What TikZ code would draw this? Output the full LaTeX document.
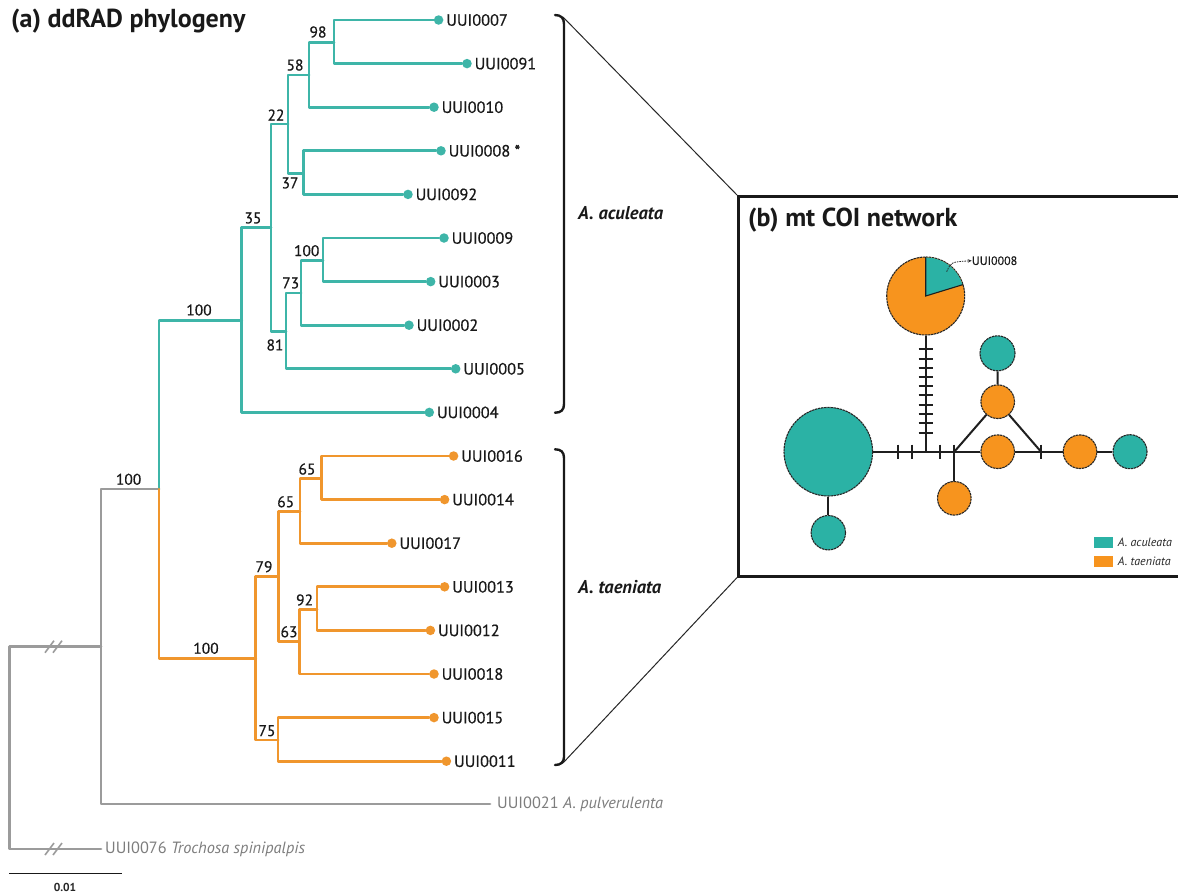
\documentclass[tikz,border=0pt]{standalone}
\usepackage{fontspec}
\setmainfont{PT Sans}
\newfontfamily\medfont[FakeBold=0.6]{PT Sans}
\usetikzlibrary{arrows.meta}
\definecolor{treeteal}{RGB}{62,181,168}
\definecolor{treeorange}{RGB}{240,150,45}
\definecolor{treegrey}{RGB}{155,155,155}
\definecolor{netteal}{RGB}{43,178,165}
\definecolor{netorange}{RGB}{247,148,30}
\definecolor{labgrey}{RGB}{125,125,125}
\begin{document}
\begin{tikzpicture}[x=1pt,y=-1pt,
  br/.style={line width=2.7pt, line cap=round, line join=round},
  tealbr/.style={br, draw=treeteal},
  orbr/.style={br, draw=treeorange},
  greybr/.style={br, draw=treegrey},
  tipdot/.style={circle, inner sep=0pt, minimum size=9.5pt},
  tipT/.style={tipdot, fill=treeteal},
  tipO/.style={tipdot, fill=treeorange},
  tiplab/.style={anchor=west, inner sep=0pt, text=black!90, font=\medfont\fontsize{16.3}{16}\selectfont},
  bs/.style={inner sep=0pt, text=black!90, font=\medfont\fontsize{15.5}{15}\selectfont},
  greylab/.style={anchor=west, inner sep=0pt, text=labgrey, font=\fontsize{16.3}{16}\selectfont},
  title/.style={anchor=west, inner sep=0pt, text=black!90, font=\fontsize{26}{26}\selectfont\bfseries},
  species/.style={anchor=west, inner sep=0pt, text=black!90, font=\fontsize{18.5}{18}\selectfont\bfseries\itshape},
  brack/.style={line width=2.4pt, line cap=round, draw=black!90},
  thinline/.style={line width=1pt, draw=black!85},
  hap/.style={circle, inner sep=0pt, draw=black!85, line width=1.1pt, dash pattern=on 2.4pt off 0.7pt},
  netline/.style={line width=2pt, draw=black!88},
  legtext/.style={anchor=west, inner sep=0pt, font=\fontsize{12}{12}\selectfont\itshape, text=black!85}
]
\clip (0,0) rectangle (1178,895);
\fill[white] (0,0) rectangle (1178,895);

% ---------------- titles
\node[title] (ta) at (11,21) {(a) ddRAD phylogeny};

% ---------------- tree: internal nodes
\coordinate (R) at (9.6,646.7);
\coordinate (G) at (101,646.7);
\coordinate (N100) at (159,489);
\coordinate (AC) at (241.7,320.7);
\coordinate (N35) at (271,227.7);
\coordinate (N22) at (288,124);
\coordinate (N58) at (309,75);
\coordinate (N98) at (334,42.3);
\coordinate (N37) at (303.6,173.3);
\coordinate (N81) at (286,331.7);
\coordinate (N73) at (301,293);
\coordinate (N100b) at (323,260.7);
\coordinate (TA) at (255.7,658.3);
\coordinate (N79) at (278.6,576.7);
\coordinate (N65b) at (300,511.7);
\coordinate (N65a) at (321.4,478.3);
\coordinate (N63) at (299.3,641.7);
\coordinate (N92) at (317,609.3);
\coordinate (N75) at (278,740);
\coordinate (t21) at (490,804);
\coordinate (t76) at (101,849);

% ---------------- tips
\node[tipT] (t07) at (438.6,20) {};
\node[tipT] (t91) at (467,63.6) {};
\node[tipT] (t10) at (434,107.2) {};
\node[tipT] (t08) at (441,150.8) {};
\node[tipT] (t92) at (408,194.4) {};
\node[tipT] (t09) at (444,238) {};
\node[tipT] (t03) at (430.7,281.6) {};
\node[tipT] (t02) at (409,325.2) {};
\node[tipT] (t05) at (455.7,368.8) {};
\node[tipT] (t04) at (429.3,412.4) {};
\node[tipO] (t16) at (453.6,456) {};
\node[tipO] (t14) at (444.6,499.6) {};
\node[tipO] (t17) at (391.8,543.2) {};
\node[tipO] (t13) at (444.6,586.8) {};
\node[tipO] (t12) at (430.4,630.4) {};
\node[tipO] (t18) at (434,674) {};
\node[tipO] (t15) at (434,717.6) {};
\node[tipO] (t11) at (446.4,761.2) {};

\foreach \t/\l in {t07/UUI0007,t91/UUI0091,t10/UUI0010,t08/{UUI0008 *},t92/UUI0092,t09/UUI0009,t03/UUI0003,t02/UUI0002,t05/UUI0005,t04/UUI0004,t16/UUI0016,t14/UUI0014,t17/UUI0017,t13/UUI0013,t12/UUI0012,t18/UUI0018,t15/UUI0015,t11/UUI0011}
  \node[tiplab] (l\t) at ([xshift=7.5pt]\t.center) {\l};

% ---------------- grey branches
\draw[greybr] (R) -- (G);
\draw[greybr] (R) |- (t76);
\draw[greybr] (G) |- (N100);
\draw[greybr] (G) |- (t21);
\foreach \yy in {646.7,849} {
  \draw[line width=1.6pt, treegrey] (45,\yy+6) -- (54,\yy-6);
  \draw[line width=1.6pt, treegrey] (53,\yy+6) -- (62,\yy-6);
}
\node[greylab] (l21) at (497,804) {UUI0021 \textit{A. pulverulenta}};
\node[greylab] (l76) at (105,849) {UUI0076 \textit{Trochosa spinipalpis}};

% ---------------- teal (A. aculeata) branches
\draw[tealbr] (N100) |- (AC);
\draw[tealbr] (AC) |- (N35);
\draw[tealbr] (AC) |- (t04);
\draw[tealbr] (N35) |- (N22);
\draw[tealbr] (N35) |- (N81);
\draw[tealbr] (N22) |- (N58);
\draw[tealbr] (N22) |- (N37);
\draw[tealbr] (N58) |- (N98);
\draw[tealbr] (N58) |- (t10);
\draw[tealbr] (N98) |- (t07);
\draw[tealbr] (N98) |- (t91);
\draw[tealbr] (N37) |- (t08);
\draw[tealbr] (N37) |- (t92);
\draw[tealbr] (N81) |- (N73);
\draw[tealbr] (N81) |- (t05);
\draw[tealbr] (N73) |- (N100b);
\draw[tealbr] (N73) |- (t02);
\draw[tealbr] (N100b) |- (t09);
\draw[tealbr] (N100b) |- (t03);

% ---------------- orange (A. taeniata) branches
\draw[orbr] (N100) |- (TA);
\draw[orbr] (TA) |- (N79);
\draw[orbr] (TA) |- (N75);
\draw[orbr] (N79) |- (N65b);
\draw[orbr] (N79) |- (N63);
\draw[orbr] (N65b) |- (N65a);
\draw[orbr] (N65b) |- (t17);
\draw[orbr] (N65a) |- (t16);
\draw[orbr] (N65a) |- (t14);
\draw[orbr] (N63) |- (N92);
\draw[orbr] (N63) |- (t18);
\draw[orbr] (N92) |- (t13);
\draw[orbr] (N92) |- (t12);
\draw[orbr] (N75) |- (t15);
\draw[orbr] (N75) |- (t11);

% ---------------- support values
\node[bs] (b1) at (128.6,479.3) {100};
\node[bs] (b2) at (199,310) {100};
\node[bs] (b3) at (253,218) {35};
\node[bs] (b4) at (276,115) {22};
\node[bs] (b5) at (295,65) {58};
\node[bs] (b6) at (318,32) {98};
\node[bs] (b7) at (290,183) {37};
\node[bs] (b8) at (306.7,250.7) {100};
\node[bs] (b9) at (290.7,283) {73};
\node[bs] (b10) at (275,345) {81};
\node[bs] (b11) at (206,648.3) {100};
\node[bs] (b12) at (264,566.7) {79};
\node[bs] (b13) at (285.7,501.7) {65};
\node[bs] (b14) at (307,469) {65};
\node[bs] (b15) at (304.6,600) {92};
\node[bs] (b16) at (289,631.7) {63};
\node[bs] (b17) at (267,730.7) {75};

% ---------------- scale bar
\coordinate (sb1) at (9.3,873.3);
\coordinate (sb2) at (121.7,873.3);
\draw[line width=1.6pt, black!90] (sb1) -- (sb2);
\node[inner sep=0pt, font=\fontsize{11.5}{11.5}\selectfont\bfseries, text=black!85] (sbl) at (65,887.5) {0.01};

% ---------------- brackets
\coordinate (ba1) at (555,15);
\coordinate (ba2) at (555,412.7);
\coordinate (bt1) at (555,449.3);
\coordinate (bt2) at (555,765);
\draw[brack] (ba1) .. controls (561,15) and (564,18) .. (564,24) -- (564,404) .. controls (564,410) and (561,412.7) .. (ba2);
\draw[brack] (bt1) .. controls (561,449.3) and (564,452) .. (564,458) -- (564,757) .. controls (564,762) and (561,765) .. (bt2);
\node[species] (sa) at (578,213) {A. aculeata};
\node[species] (st) at (578,587) {A. taeniata};
\coordinate (da) at (563,17);
\coordinate (dt) at (563,763);

% ---------------- box (b)
\node[draw=black!90, line width=2.6pt, minimum width=470pt, minimum height=380pt, anchor=north west, inner sep=0pt] (boxb) at (737,195) {};
\draw[thinline] (da) -- (boxb.north west);
\draw[thinline] (dt) -- (boxb.south west);
\node[title] (tb) at (748,220) {(b) mt COI network};

% ---------------- network
\coordinate (J1) at (925.7,451.7);
\coordinate (J2) at (954.3,451.7);
\coordinate (J3) at (1041,451.7);
\node[hap, fill=netteal, minimum size=88.6pt] (big) at (828.3,451.7) {};
\node[hap, fill=netteal, minimum size=34.4pt] (sml) at (828.3,532.7) {};
\node[hap, fill=netteal, minimum size=35pt] (ttop) at (997.5,353.3) {};
\node[hap, fill=netorange, minimum size=33.6pt] (oup) at (997.7,401.7) {};
\node[hap, fill=netorange, minimum size=33.6pt] (olow) at (954.3,498.3) {};
\node[hap, fill=netorange, minimum size=33.6pt] (omid) at (997.7,451.7) {};
\node[hap, fill=netorange, minimum size=33.6pt] (orgt) at (1080,451.7) {};
\node[hap, fill=netteal, minimum size=34pt] (trgt) at (1130,451.7) {};
\node[hap, fill=netorange, minimum size=78pt] (pie) at (925.7,296) {};
\fill[netteal] (pie.center) -- (962.5,284.7) arc[start angle=-17, end angle=-90, radius=38.5] -- cycle;
\draw[line width=1.1pt, black!88] (963.0,284.6) -- (pie.center) -- (925.7,257);

\draw[netline] (big) -- (J1) -- (J2) -- (omid);
\draw[netline] (omid) -- (J3) -- (orgt);
\draw[netline] (orgt) -- (trgt);
\draw[netline] (pie) -- (J1);
\draw[netline] (J2) -- (olow);
\draw[netline] (J2) -- (oup);
\draw[netline] (oup) -- (J3);
\draw[netline] (ttop) -- (oup);
\draw[netline] (big) -- (sml);
\draw[netline] (954.3,444.7) -- (J2);
\foreach \yy in {349.3,359,368.3,377.3,386.3,395.3,404.7,414,423.3,433.3}
  \draw[netline] (918.7,\yy) -- (932.7,\yy);
\foreach \xx in {898.3,911.7,940,1041}
  \draw[netline] (\xx,444.7) -- (\xx,458.7);

\node[anchor=west, inner sep=0pt, font=\medfont\fontsize{12}{12}\selectfont, text=black!90] (l08) at (971.7,260.7) {UUI0008};
\draw[line width=0.8pt, black!85, dash pattern=on 1.5pt off 1pt, -{Stealth[length=4pt,width=3.5pt]}] (946.7,271.7) .. controls (951,262) .. (l08.west);

% legend
\fill[netteal] (1094,537.3) rectangle (1112.7,548.3);
\fill[netorange] (1094,556) rectangle (1112.7,566.7);
\node[legtext] (lga) at (1117.7,542.7) {A. aculeata};
\node[legtext] (lgt) at (1117.7,561.5) {A. taeniata};
\end{tikzpicture}
\end{document}
